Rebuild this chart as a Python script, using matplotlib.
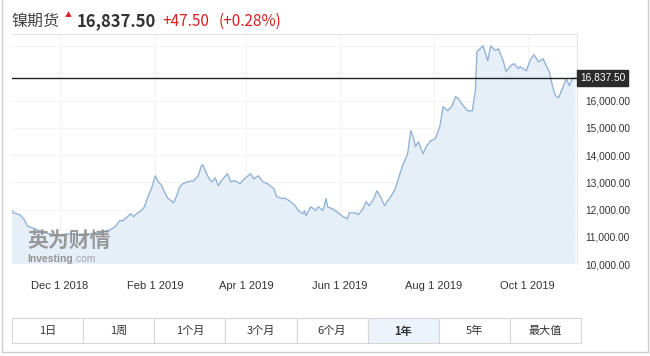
import matplotlib
matplotlib.use("Agg")
import matplotlib.pyplot as plt
from matplotlib.patches import Rectangle
from matplotlib.lines import Line2D
import pandas as pd

plt.rcParams['font.family'] = ['Noto Sans CJK SC', 'DejaVu Sans']

# nickel futures, daily close
dates = ["2018-10-31", "2018-11-01", "2018-11-05", "2018-11-08", "2018-11-10", "2018-11-13",
         "2018-11-18", "2018-11-24", "2018-12-01", "2018-12-08", "2018-12-14", "2018-12-21",
         "2018-12-27", "2019-01-03", "2019-01-06", "2019-01-09", "2019-01-11", "2019-01-14",
         "2019-01-16", "2019-01-18", "2019-01-20", "2019-01-22", "2019-01-24", "2019-01-25",
         "2019-01-27", "2019-01-30", "2019-02-01", "2019-02-03", "2019-02-05", "2019-02-07",
         "2019-02-09", "2019-02-13", "2019-02-15", "2019-02-17", "2019-02-19", "2019-02-22",
         "2019-02-26", "2019-03-01", "2019-03-03", "2019-03-04", "2019-03-07", "2019-03-09",
         "2019-03-10", "2019-03-12", "2019-03-14", "2019-03-16", "2019-03-20", "2019-03-22",
         "2019-03-25", "2019-03-28", "2019-03-31", "2019-04-04", "2019-04-06", "2019-04-09",
         "2019-04-12", "2019-04-15", "2019-04-19", "2019-04-21", "2019-04-25", "2019-04-26",
         "2019-04-30", "2019-05-03", "2019-05-05", "2019-05-08", "2019-05-09", "2019-05-10",
         "2019-05-13", "2019-05-15", "2019-05-16", "2019-05-18", "2019-05-21", "2019-05-23",
         "2019-05-24", "2019-05-27", "2019-05-30", "2019-06-03", "2019-06-06", "2019-06-07",
         "2019-06-11", "2019-06-13", "2019-06-16", "2019-06-18", "2019-06-20", "2019-06-23",
         "2019-06-25", "2019-06-27", "2019-06-30", "2019-07-02", "2019-07-04", "2019-07-07",
         "2019-07-10", "2019-07-12", "2019-07-15", "2019-07-17", "2019-07-19", "2019-07-20",
         "2019-07-22", "2019-07-25", "2019-07-27", "2019-07-30", "2019-08-02", "2019-08-05",
         "2019-08-07", "2019-08-10", "2019-08-13", "2019-08-15", "2019-08-17", "2019-08-20",
         "2019-08-23", "2019-08-26", "2019-08-27", "2019-08-28", "2019-08-29", "2019-08-31",
         "2019-09-02", "2019-09-05", "2019-09-07", "2019-09-10", "2019-09-12", "2019-09-15",
         "2019-09-17", "2019-09-20", "2019-09-22", "2019-09-25", "2019-09-26", "2019-09-30",
         "2019-10-03", "2019-10-05", "2019-10-08", "2019-10-11", "2019-10-13", "2019-10-15",
         "2019-10-17", "2019-10-19", "2019-10-21", "2019-10-24", "2019-10-26", "2019-10-28",
         "2019-10-30", "2019-11-01"]
prices = [11960, 11880, 11810, 11630, 11400, 11330,
          11220, 11110, 11070, 11110, 11070, 11110,
          11150, 11260, 11370, 11590, 11590, 11740,
          11850, 11740, 11850, 11920, 12030, 12100,
          12430, 12840, 13240, 13020, 12910, 12650,
          12430, 12250, 12510, 12840, 12950, 13020,
          13060, 13240, 13610, 13650, 13240, 13060,
          13020, 13170, 12880, 13060, 13320, 13020,
          13060, 12950, 13130, 13320, 13130, 13240,
          13020, 12950, 12770, 12470, 12400, 12430,
          12290, 12140, 11960, 11850, 11960, 11770,
          12100, 12030, 11960, 12100, 11960, 12400,
          12100, 12030, 11920, 11740, 11660, 11880,
          11880, 11810, 12030, 12290, 12140, 12400,
          12690, 12510, 12140, 12320, 12470, 12770,
          13320, 13650, 14050, 14900, 14600, 14310,
          14490, 14050, 14310, 14530, 14600, 15080,
          15780, 15630, 15820, 16150, 16070, 15820,
          15630, 15630, 16000, 16370, 17800, 17910,
          18020, 17470, 18020, 17840, 17910, 17470,
          17070, 17290, 17360, 17180, 17250, 17100,
          17540, 17690, 17430, 17540, 17290, 17070,
          16550, 16180, 16110, 16510, 16810, 16550,
          16810, 16837.5]

last_price = 16837.5
change = "+47.50"
change_pct = "(+0.28%)"
title = "镍期货"

tick_dates = ["2018-12-01", "2019-02-01", "2019-04-01", "2019-06-01", "2019-08-01", "2019-10-01"]
tick_labels = ["Dec 1 2018", "Feb 1 2019", "Apr 1 2019", "Jun 1 2019", "Aug 1 2019", "Oct 1 2019"]
y_ticks = [10000, 11000, 12000, 13000, 14000, 15000, 16000]
y_grid = [10000, 11000, 12000, 13000, 14000, 15000, 16000, 17000, 18000]
ranges = ["1日", "1周", "1个月", "3个月", "6个月", "1年", "5年", "最大值"]
active_range = "1年"

W, H = 650, 356
fig = plt.figure(figsize=(6.5, 3.56), dpi=100)
fig.patch.set_facecolor("white")

def fx(px):
    return px / W

def fy(py):
    return 1 - py / H

ax = fig.add_axes([fx(12), fy(264), fx(577) - fx(12), fy(34) - fy(264)])
x = pd.to_datetime(dates)
ax.fill_between(x, 0, prices, color="#e6eef7", lw=0, zorder=2)
ax.plot(x, prices, color="#94b4d6", lw=1, zorder=3)
ax.axhline(last_price, color="#222222", lw=1, zorder=4)
for g in y_grid:
    ax.axhline(g, color="#f3f3f3", lw=0.8, zorder=1)

ax.set_xlim(pd.Timestamp("2018-10-31"), pd.Timestamp("2019-11-02"))
ax.set_ylim(10000, 18450)
ax.set_xticks(pd.to_datetime(tick_dates))
ax.set_xticklabels(tick_labels, family="Liberation Sans", fontsize=8, color="#333333")
ax.yaxis.tick_right()
ax.set_yticks(y_ticks)
ax.set_yticklabels([f"{v:,.2f}" for v in y_ticks], family="Liberation Sans",
                   fontsize=7.3, color="#333333")
ax.tick_params(axis="both", length=0)
ax.tick_params(axis="x", pad=12)
ax.tick_params(axis="y", pad=6)
ax.grid(True, axis="x", color="#f3f3f3", lw=0.8)
ax.set_axisbelow(True)
for side in ["left", "bottom"]:
    ax.spines[side].set_visible(False)
for side in ["top", "right"]:
    ax.spines[side].set_color("#e4e4e4")

# current price tag on the right
ax.annotate(f"{last_price:,.2f}", xy=(1, last_price), xycoords=("axes fraction", "data"),
            xytext=(2, 0), textcoords="offset points", va="center", ha="left",
            family="Liberation Sans", fontsize=7.3, color="white",
            bbox=dict(boxstyle="square,pad=0.3", fc="#2b2b2b", ec="#2b2b2b"))

# watermark
ax.text(0.027, 0.075, "英为财情", transform=ax.transAxes, fontsize=15, fontweight="bold",
        color="#8a8a8a", alpha=0.85, style="italic", zorder=5)
inv = ax.text(0.027, 0.01, "Investing", transform=ax.transAxes, fontsize=7.5,
              fontweight="bold", color="#8a8a8a", alpha=0.9, family="Liberation Sans",
              zorder=5)
ax.annotate(".com", xy=(1, 0), xycoords=inv, va="bottom", ha="left", fontsize=7.5,
            color="#a0a0a0", alpha=0.9, family="Liberation Sans", zorder=5)

# header
fig.text(fx(11), fy(21), title, fontsize=11.5, color="#444444", va="center")
fig.text(fx(68), fy(15), "▲", fontsize=5, color="#d92020", va="center", ha="center")
fig.text(fx(77), fy(21), f"{last_price:,.2f}", fontsize=12, fontweight="bold",
         color="#333333", va="center")
fig.text(fx(162), fy(21), change, fontsize=11, color="#d92020", va="center")
fig.text(fx(219), fy(21), change_pct, fontsize=11, color="#d92020", va="center")

# outer frame
fig.add_artist(Line2D([fx(2), fx(2)], [fy(0), fy(352)], color="#cccccc", lw=1))
fig.add_artist(Line2D([fx(2), fx(648)], [fy(352), fy(352)], color="#cccccc", lw=1))
fig.add_artist(Line2D([fx(648), fx(648)], [fy(0), fy(352)], color="#cccccc", lw=1))

# range buttons
bw = (581 - 12) / len(ranges)
for i, r in enumerate(ranges):
    left = 12 + i * bw
    active = r == active_range
    fig.add_artist(Rectangle((fx(left), fy(343)), fx(bw), fy(318) - fy(343),
                             transform=fig.transFigure,
                             fc="#edf3fa" if active else "white", ec="#d6d6d6", lw=0.8))
    fig.text(fx(left + bw / 2), fy(331), r, fontsize=8, color="#333333",
             ha="center", va="center", fontweight="bold" if active else "normal")

fig.savefig("out.png", dpi=100)
